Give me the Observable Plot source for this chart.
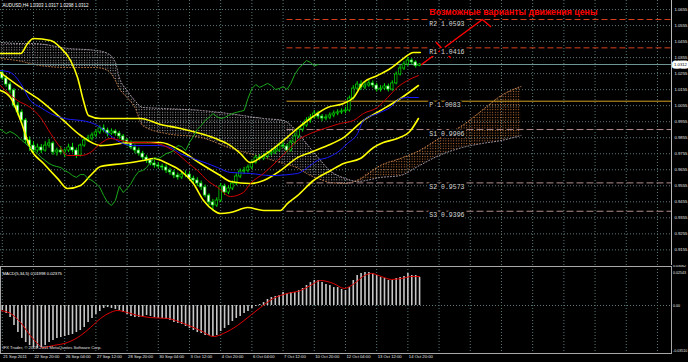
<!DOCTYPE html>
<html><head><meta charset="utf-8">
<script src="https://cdn.jsdelivr.net/npm/d3@7"></script>
<script src="https://cdn.jsdelivr.net/npm/@observablehq/plot@0.6"></script>
<style>
html,body{margin:0;padding:0;background:#000;overflow:hidden;width:688px;height:362px}
svg{display:block}
</style></head><body>
<svg width="0" height="0" style="position:absolute">
<defs>
<pattern id="kumoDown" patternUnits="userSpaceOnUse" x="0.8" y="0" width="2.6" height="2.6"><rect width="1" height="1" fill="#aaa2aa"/></pattern>
<pattern id="kumoUp" patternUnits="userSpaceOnUse" x="0.8" y="0" width="2.6" height="2.6"><rect width="1" height="1" fill="#c87436"/></pattern>
</defs></svg>
<div id="chart"></div>
<script>
// ---------- DATA ----------
const title = "AUDUSD,H4 1.0303 1.0317 1.0298 1.0312";
const caption = "Возможные варианты движения цены";
const macdTitle = "MACD(5,34,5) 0.01998 0.02375";
const copyright = "IFX Trader, © 2001-2011 MetaQuotes Software Corp.";
const firstBar = -8;            // bar index of first visible candle (21 Sep 2011)
const lastClose = 1.0312;

const xTickIdx = [-8, 0, 8, 16, 24, 32, 40, 48, 56, 64, 72, 80, 88, 96];
const xTickLabels = ["21 Sep 2011","22 Sep 20:00","26 Sep 04:00","27 Sep 12:00","28 Sep 20:00","30 Sep 04:00","3 Oct 12:00","4 Oct 20:00","6 Oct 04:00","7 Oct 12:00","10 Oct 20:00","12 Oct 04:00","13 Oct 12:00","14 Oct 20:00"];
const xGridIdx = [-8,0,8,16,24,32,40,48,56,64,72,80,88,96,104,112,120,128,136,144,152,160];
const priceTicks = [1.0655,1.0555,1.0455,1.0355,1.0255,1.0155,1.0055,0.9955,0.9855,0.9755,0.9655,0.9555,0.9455,0.9355,0.9255,0.9155];

const O = [1.0262,1.0225,1.0187,1.0150,1.0056,1.0013,0.9963,0.9838,
0.9806,0.9775,0.9794,0.9775,0.9806,0.9819,0.9763,0.9775,
0.9763,0.9775,0.9794,0.9775,0.9744,0.9806,0.9838,0.9850,
0.9869,0.9888,0.9913,0.9900,0.9881,0.9894,0.9881,0.9863,
0.9838,0.9819,0.9794,0.9775,0.9756,0.9731,0.9713,0.9694,
0.9682,0.9675,0.9669,0.9650,0.9638,0.9619,0.9607,0.9625,
0.9625,0.9600,0.9588,0.9569,0.9545,0.9494,0.9451,0.9432,
0.9463,0.9551,0.9513,0.9538,0.9569,0.9613,0.9644,0.9650,
0.9669,0.9700,0.9731,0.9725,0.9738,0.9756,0.9763,0.9775,
0.9806,0.9800,0.9775,0.9825,0.9863,0.9906,0.9931,0.9963,
0.9981,1.0006,0.9987,0.9975,0.9981,0.9994,1.0006,1.0013,
1.0019,1.0025,1.0100,1.0162,1.0187,1.0169,1.0181,1.0194,
1.0181,1.0156,1.0162,1.0175,1.0156,1.0194,1.0250,1.0287,
1.0312,1.0337,1.0325,1.0303];
const C = [1.0225,1.0187,1.0150,1.0056,1.0013,0.9963,0.9838,0.9806,
0.9775,0.9794,0.9775,0.9806,0.9819,0.9763,0.9775,0.9763,
0.9775,0.9794,0.9775,0.9744,0.9806,0.9838,0.9850,0.9869,
0.9888,0.9913,0.9900,0.9881,0.9894,0.9881,0.9863,0.9838,
0.9819,0.9794,0.9775,0.9756,0.9731,0.9713,0.9694,0.9682,
0.9675,0.9669,0.9650,0.9638,0.9619,0.9607,0.9625,0.9625,
0.9600,0.9588,0.9569,0.9545,0.9494,0.9451,0.9432,0.9463,
0.9551,0.9513,0.9538,0.9569,0.9613,0.9644,0.9650,0.9669,
0.9700,0.9731,0.9725,0.9738,0.9756,0.9763,0.9775,0.9806,
0.9800,0.9775,0.9825,0.9863,0.9906,0.9931,0.9963,0.9981,
1.0006,0.9987,0.9975,0.9981,0.9994,1.0006,1.0013,1.0019,
1.0025,1.0100,1.0162,1.0187,1.0169,1.0181,1.0194,1.0181,
1.0156,1.0162,1.0175,1.0156,1.0194,1.0250,1.0287,1.0312,
1.0337,1.0325,1.0303,1.0312];
const H = [1.0275,1.0240,1.0200,1.0162,1.0075,1.0030,0.9975,0.9860,
0.9830,0.9815,0.9812,0.9830,0.9845,0.9830,0.9790,0.9800,
0.9785,0.9815,0.9820,0.9790,0.9815,0.9850,0.9870,0.9885,
0.9905,0.9930,0.9935,0.9915,0.9910,0.9905,0.9895,0.9875,
0.9850,0.9835,0.9810,0.9790,0.9770,0.9745,0.9725,0.9712,
0.9700,0.9690,0.9685,0.9665,0.9652,0.9635,0.9645,0.9648,
0.9640,0.9615,0.9605,0.9585,0.9560,0.9505,0.9470,0.9480,
0.9570,0.9565,0.9555,0.9585,0.9630,0.9660,0.9670,0.9685,
0.9715,0.9745,0.9750,0.9755,0.9770,0.9785,0.9795,0.9822,
0.9830,0.9815,0.9840,0.9880,0.9920,0.9950,0.9980,1.0000,
1.0025,1.0020,1.0000,0.9998,1.0010,1.0022,1.0030,1.0035,
1.0045,1.0115,1.0180,1.0205,1.0210,1.0200,1.0215,1.0210,
1.0195,1.0180,1.0192,1.0190,1.0210,1.0265,1.0305,1.0330,
1.0355,1.0348,1.0335,1.0317];
const L = [1.0212,1.0170,1.0128,1.0040,0.9990,0.9940,0.9815,0.9770,
0.9750,0.9760,0.9755,0.9765,0.9790,0.9745,0.9740,0.9748,
0.9730,0.9762,0.9760,0.9725,0.9735,0.9795,0.9825,0.9835,
0.9855,0.9875,0.9885,0.9860,0.9870,0.9865,0.9845,0.9820,
0.9800,0.9780,0.9755,0.9740,0.9715,0.9695,0.9680,0.9665,
0.9660,0.9650,0.9632,0.9620,0.9600,0.9590,0.9595,0.9605,
0.9585,0.9570,0.9550,0.9525,0.9480,0.9430,0.9395,0.9420,
0.9450,0.9495,0.9500,0.9525,0.9555,0.9600,0.9625,0.9635,
0.9655,0.9690,0.9710,0.9712,0.9725,0.9740,0.9750,0.9765,
0.9785,0.9760,0.9765,0.9810,0.9850,0.9890,0.9920,0.9945,
0.9970,0.9970,0.9955,0.9960,0.9968,0.9980,0.9992,1.0000,
1.0005,1.0015,1.0090,1.0150,1.0150,1.0155,1.0170,1.0165,
1.0140,1.0140,1.0150,1.0140,1.0145,1.0185,1.0240,1.0275,
1.0300,1.0310,1.0290,1.0298];

// Indicator lines: [bar index, price]
const redMA = [[-8.5,1.0181],[-4.1,1.0087],[-0.8,1.0044],[1.8,0.9981],[4.4,0.9881],[6.9,0.9794],[8.7,0.9744],[12.1,0.9744],[14.6,0.9763],[17.2,0.9819],[19.7,0.9850],[22.3,0.9838],[25.6,0.9825],[29.2,0.9825],[31.8,0.9819],[34.4,0.9794],[36.9,0.9756],[39.5,0.9700],[42.1,0.9650],[44.6,0.9588],[47.2,0.9545],[50.5,0.9488],[53.8,0.9513],[55.6,0.9569],[59,0.9632],[62.6,0.9713],[65.1,0.9775],[67.7,0.9838],[71,0.9881],[75.4,0.9919],[78.7,0.9944],[82.1,0.9963],[84.6,1.0006],[88.2,1.0044],[90.8,1.0106],[93.3,1.0169],[95.9,1.0212],[98.7,1.0243]];
const blueMA = [[-8.5,1.0275],[-5.9,1.0262],[-3.3,1.0194],[-0.8,1.0087],[1.8,1.0044],[4.4,1.0006],[6.9,0.9981],[9.5,0.9969],[12.1,0.9963],[14.6,0.9950],[17.2,0.9919],[19.7,0.9869],[22.3,0.9825],[25.6,0.9806],[31.8,0.9806],[35.1,0.9794],[37.7,0.9756],[41,0.9725],[44.6,0.9694],[47.2,0.9669],[50.5,0.9638],[55.6,0.9632],[60.8,0.9619],[67.7,0.9632],[70.3,0.9669],[72.8,0.9713],[75.4,0.9731],[77.9,0.9763],[80.5,0.9819],[83.1,0.9881],[84.6,0.9963],[88.2,1.0006],[91.5,1.0044],[94.1,1.0100],[95.9,1.0106],[98.7,1.0106]];
const bandUpper = [[-8.5,1.0381],[-3.3,1.0381],[-1.5,1.0443],[0,1.0474],[4.4,1.0462],[6.9,1.0418],[9.5,1.0337],[11.3,1.0231],[12.8,1.0087],[14.1,0.9994],[17.2,0.9975],[21.5,0.9975],[27.4,0.9975],[32.6,0.9938],[37.7,0.9913],[42.8,0.9881],[46.7,0.9850],[50.5,0.9806],[53.1,0.9756],[55.6,0.9700],[59,0.9744],[64.1,0.9838],[67.7,0.9913],[71,0.9975],[75.4,1.0044],[79.5,1.0069],[82.1,1.0106],[84.6,1.0200],[88.2,1.0243],[91.5,1.0287],[94.9,1.0350],[97.4,1.0387],[99.2,1.0387]];
const bandMiddle = [[-8.5,1.0262],[-3.3,1.0169],[1.8,1.0087],[6.9,0.9981],[12.1,0.9869],[17.2,0.9806],[25.6,0.9825],[32.6,0.9825],[37.7,0.9775],[42.8,0.9694],[47.9,0.9619],[50.5,0.9582],[55.6,0.9569],[59,0.9588],[63.3,0.9650],[67.7,0.9731],[71,0.9763],[75.4,0.9806],[79.5,0.9856],[84.6,0.9963],[89,1.0025],[94.1,1.0100],[98.7,1.0181]];
const bandLower = [[-8.5,1.0150],[-5.9,1.0106],[-3.3,0.9963],[-0.8,0.9788],[2.6,0.9694],[6.2,0.9600],[8.7,0.9538],[12.1,0.9557],[14.6,0.9619],[17.2,0.9675],[23.1,0.9694],[28.2,0.9713],[30.8,0.9725],[34.4,0.9694],[37.7,0.9650],[41,0.9569],[43.6,0.9463],[46.2,0.9401],[47.9,0.9382],[50.5,0.9388],[54.9,0.9419],[59,0.9401],[63.3,0.9401],[65.1,0.9444],[67.7,0.9494],[71.8,0.9588],[76.2,0.9650],[79.5,0.9694],[83.8,0.9725],[87.2,0.9794],[89.7,0.9825],[93.3,0.9850],[96.7,0.9900],[98.7,0.9975]];
const chikouShift = 26;

// Ichimoku cloud (already shifted forward)
const kumoIdx = [-9,-3,0,9,16,19,21,22,24,26,28,34,43,50,59,64,68,70,73,76,80,83,89,94,99,104,110,115,120,125];
const spanA = [1.0350,1.0331,1.0312,1.0293,1.0293,1.0275,1.0212,1.0162,1.0106,1.0044,0.9931,0.9881,0.9856,0.9794,0.9731,0.9694,0.9663,0.9632,0.9600,0.9576,0.9569,0.9588,0.9682,0.9725,0.9775,0.9850,0.9931,1.0025,1.0119,1.0175];
const spanB = [1.0449,1.0443,1.0443,1.0412,1.0400,1.0381,1.0325,1.0231,1.0150,1.0087,1.0044,1.0037,1.0025,1.0006,0.9975,0.9963,0.9881,0.9819,0.9731,0.9650,0.9600,0.9582,0.9607,0.9619,0.9682,0.9744,0.9794,0.9819,0.9838,0.9869];
const kumoCross = 83;

// Pivot levels
const pivotNames = ["R2","R1","P","S1","S2","S3"];
const pivotValues = [1.0593, 1.0416, 1.0083, 0.9906, 0.9573, 0.9396];
const pivotStartIdx = 65;
const pivotLabelIdx = 101.5;

// Forecast paths
const forecastMain = [[99.5,1.0312],[115.1,1.0593],[117.2,1.0549]];
const forecastAlt = [[103.3,1.0449],[106.9,1.0356]];

// MACD
const macdHist = [-0.0039,-0.0062,-0.0094,-0.0156,-0.0211,-0.0257,-0.0289,-0.0312,
-0.0328,-0.0335,-0.0328,-0.0312,-0.0289,-0.0273,-0.0257,-0.0250,
-0.0242,-0.0234,-0.0226,-0.0211,-0.0195,-0.0172,-0.0133,-0.0101,
-0.0070,-0.0047,-0.0023,-0.0016,-0.0023,-0.0031,-0.0039,-0.0055,
-0.0070,-0.0086,-0.0094,-0.0094,-0.0086,-0.0078,-0.0086,-0.0094,
-0.0101,-0.0101,-0.0109,-0.0117,-0.0133,-0.0140,-0.0148,-0.0164,
-0.0179,-0.0195,-0.0211,-0.0218,-0.0234,-0.0234,-0.0242,-0.0234,
-0.0203,-0.0179,-0.0156,-0.0125,-0.0101,-0.0086,-0.0062,-0.0047,
-0.0023,-0.0008,0.0008,0.0023,0.0047,0.0062,0.0070,0.0078,
0.0101,0.0094,0.0101,0.0101,0.0117,0.0133,0.0156,0.0179,
0.0195,0.0195,0.0179,0.0164,0.0156,0.0140,0.0140,0.0125,
0.0117,0.0140,0.0195,0.0234,0.0250,0.0257,0.0257,0.0250,
0.0234,0.0218,0.0211,0.0195,0.0195,0.0211,0.0218,0.0226,
0.0250,0.0234,0.0234,0.0218];
const macdSignal = [[-8.5,-0.0039],[-5.9,-0.0062],[-3.3,-0.0133],[-0.8,-0.0234],[1,-0.0296],[2.3,-0.0328],[5.1,-0.0312],[8.7,-0.0289],[12.1,-0.0234],[14.6,-0.0172],[17.2,-0.0101],[19.7,-0.0055],[21.5,-0.0039],[24.1,-0.0055],[26.7,-0.0078],[30,-0.0094],[34.4,-0.0101],[38.5,-0.0140],[42.8,-0.0195],[46.2,-0.0242],[48.7,-0.0218],[52.3,-0.0156],[55.6,-0.0078],[58.2,-0.0016],[61.5,0.0055],[65.1,0.0094],[68.5,0.0117],[71,0.0156],[73.6,0.0195],[76.9,0.0172],[79.7,0.0133],[82.3,0.0172],[84.9,0.0234],[86.7,0.0250],[89.2,0.0226],[91.8,0.0203],[94.4,0.0211],[97,0.0226],[99,0.0226]];
const macdAxisVals = [0.0306, 0.02543, 0, -0.0351];
const macdAxisLabels = ["0.03062", "0.02543", "0.00", "-0.03510"];

// ---------- BUILD ----------
const bars = C.map((c, k) => ({i: k + firstBar, o: O[k], h: H[k], l: L[k], c}));
const kumo = kumoIdx.map((i, k) => ({i, a: spanA[k], b: spanB[k]}));
const kumoDown = kumo.filter(d => d.i <= kumoCross);
const kumoUp = kumo.filter(d => d.i >= kumoCross);
const pivots = pivotNames.map((n, k) => ({n, v: pivotValues[k]}));
const xTicks = xTickIdx.map((i, k) => ({i, label: xTickLabels[k]}));
const hist = macdHist.map((v, k) => ({i: k + firstBar, v}));
const macdAxis = macdAxisVals.map((v, k) => ({v, label: macdAxisLabels[k]}));

const xDomain = [-8.46, 163.6];
const gridColor = "#5a7878";
const sans = "Liberation Sans, Arial, sans-serif";
const mono = "Liberation Mono, DejaVu Sans Mono, monospace";
const candleGreen = "#00e000";
const yellow = "#ffff00";

const main = Plot.plot({
  width: 688, height: 265,
  marginTop: 0, marginBottom: 0, marginLeft: 0, marginRight: 17,
  style: {background: "#000", color: "#e0e0e0", fontFamily: sans},
  x: {domain: xDomain, axis: null},
  y: {domain: [0.90574, 1.07116], axis: null},
  color: {type: "identity"},
  marks: [
    Plot.ruleX(xGridIdx, {stroke: gridColor, strokeDasharray: "1,2"}),
    Plot.ruleY(priceTicks, {stroke: gridColor, strokeDasharray: "1,2"}),
    Plot.areaY(kumoDown, {x: "i", y1: "a", y2: "b", fill: "url(#kumoDown)", curve: "monotone-x"}),
    Plot.areaY(kumoUp, {x: "i", y1: "a", y2: "b", fill: "url(#kumoUp)", curve: "monotone-x"}),
    Plot.line(kumo, {x: "i", y: "a", stroke: "#e8985a", strokeWidth: 0.8, strokeDasharray: "1,2", curve: "monotone-x"}),
    Plot.line(kumo, {x: "i", y: "b", stroke: "#d8c8d8", strokeWidth: 0.8, strokeDasharray: "1,2", curve: "monotone-x"}),
    Plot.ruleY([lastClose], {stroke: "#6f9494"}),
    Plot.ruleY(pivots.filter(d => d.n[0] === "R"), {y: "v", x1: pivotStartIdx, x2: xDomain[1], stroke: "#d8401c", strokeDasharray: "6,3"}),
    Plot.ruleY(pivots.filter(d => d.n === "P"), {y: "v", x1: pivotStartIdx, x2: xDomain[1], stroke: "#d4a020"}),
    Plot.ruleY(pivots.filter(d => d.n[0] === "S"), {y: "v", x1: pivotStartIdx, x2: xDomain[1], stroke: "#b08c8c", strokeDasharray: "7,3"}),
    Plot.ruleX(bars, {x: "i", y1: "l", y2: "h", stroke: candleGreen, strokeWidth: 1}),
    Plot.rect(bars, {x1: d => d.i - 0.33, x2: d => d.i + 0.33, y1: "o", y2: "c",
      fill: d => d.c >= d.o ? "#000" : "#fff", stroke: candleGreen, strokeWidth: 0.7}),
    Plot.line(bandUpper, {stroke: yellow, strokeWidth: 1.6, curve: "monotone-x"}),
    Plot.line(bandMiddle, {stroke: yellow, strokeWidth: 1.6, curve: "monotone-x"}),
    Plot.line(bandLower, {stroke: yellow, strokeWidth: 1.6, curve: "monotone-x"}),
    Plot.line(blueMA, {stroke: "#1a1aff", strokeWidth: 1, curve: "monotone-x"}),
    Plot.line(redMA, {stroke: "#d00000", strokeWidth: 1, curve: "monotone-x"}),
    Plot.line(bars.filter(d => d.i - chikouShift >= -9), {x: d => d.i - chikouShift, y: "c", stroke: "#1aa81a", strokeWidth: 1}),
    Plot.line(forecastMain, {stroke: "#ff0000", strokeWidth: 1.5}),
    Plot.line(forecastAlt, {stroke: "#ff0000", strokeWidth: 1.5}),
    Plot.text(pivots, {x: pivotLabelIdx, y: "v", text: d => d.n + " " + d.v.toFixed(4), textAnchor: "start", dy: 4,
      fill: "#d8d8d8", stroke: "#000", strokeWidth: 4, fontSize: 6.5, fontFamily: mono}),
    Plot.text([caption], {x: pivotLabelIdx, y: pivotValues[0], dy: -7, textAnchor: "start", fill: "#ff0000",
      fontSize: 8.8, fontWeight: "bold", fontFamily: sans}),
    Plot.text([title], {frameAnchor: "top-left", dx: 2, dy: 3, textAnchor: "start", fill: "#ffffff", fontSize: 4.5}),
    Plot.text(priceTicks, {y: d => d, frameAnchor: "right", dx: 3, textAnchor: "start", text: d => d.toFixed(4), fill: "#e8e8e8", fontSize: 4.2}),
    Plot.text([lastClose], {y: d => d, frameAnchor: "right", dx: 9, textAnchor: "middle", text: d => d.toFixed(4),
      fill: "#000", stroke: "#fff", strokeWidth: 5, fontSize: 4.2}),
    Plot.ruleX([xDomain[1]], {stroke: "#b8b8b8"})
  ]
});

const macd = Plot.plot({
  width: 688, height: 97,
  marginTop: 1, marginBottom: 9, marginLeft: 0, marginRight: 17,
  style: {background: "#000", color: "#e0e0e0", fontFamily: sans},
  x: {domain: xDomain, axis: null},
  y: {domain: [-0.03744, 0.03042], axis: null},
  marks: [
    Plot.ruleX(xGridIdx, {stroke: gridColor, strokeDasharray: "1,2"}),
    Plot.ruleY([0], {stroke: gridColor, strokeDasharray: "1,2"}),
    Plot.ruleX(hist, {x: "i", y1: 0, y2: "v", stroke: "#c8c8c8", strokeWidth: 1.6}),
    Plot.line(macdSignal, {stroke: "#e00000", strokeWidth: 1, curve: "monotone-x"}),
    Plot.frame({stroke: "#a8a8a8"}),
    Plot.text([macdTitle], {frameAnchor: "top-left", dx: 2, dy: 6, textAnchor: "start", fill: "#ffffff", fontSize: 4.2}),
    Plot.text([copyright], {frameAnchor: "bottom-left", dx: 2, dy: -5, textAnchor: "start", fill: "#e0e0e0", fontSize: 4.2}),
    Plot.text(macdAxis, {y: "v", frameAnchor: "right", dx: 1.5, textAnchor: "start", text: "label", fill: "#e8e8e8", fontSize: 3.6}),
    Plot.text(xTicks, {x: "i", frameAnchor: "bottom", dy: 4.5, dx: 1, textAnchor: "start", text: "label", fill: "#e8e8e8", fontSize: 4.2})
  ]
});

const root = document.getElementById("chart");
root.append(main, macd);
</script></body></html>
